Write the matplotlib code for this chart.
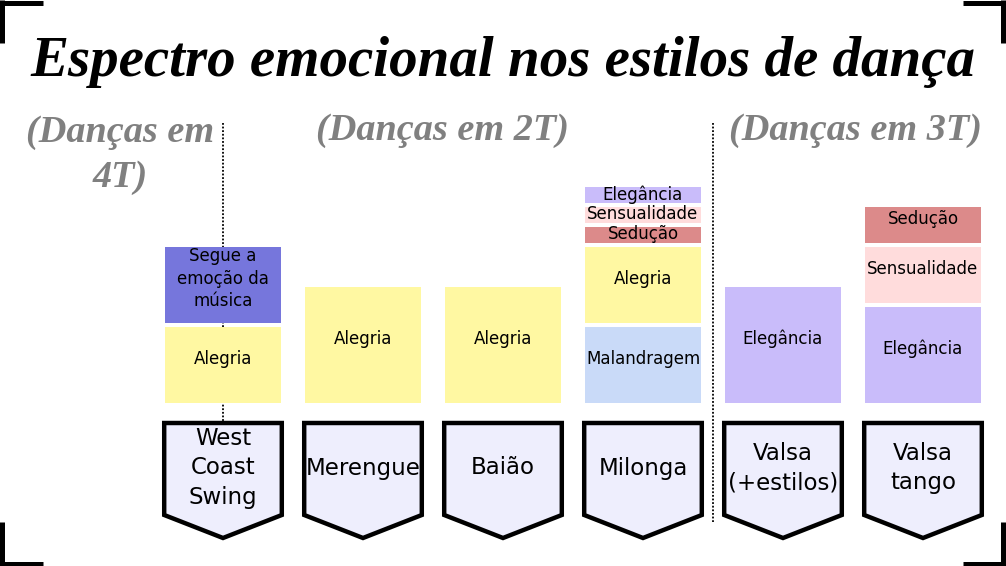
import matplotlib.pyplot as plt
from matplotlib.patches import Rectangle, Polygon

# DADOS

dancas = ["West\nCoast\nSwing", "Merengue", "Baião", "Milonga",
          "Valsa\n(+estilos)", "Valsa\ntango"]

# emoções de baixo para cima, com a "altura" de cada uma
emocoes = [
    ["Alegria", "Segue a\nemoção da\nmúsica"],
    ["Alegria"],
    ["Alegria"],
    ["Malandragem", "Alegria", "Sedução", "Sensualidade", "Elegância"],
    ["Elegância"],
    ["Elegância", "Sensualidade", "Sedução"],
]
alturas = [
    [4, 4],
    [6],
    [6],
    [4, 4, 1, 1, 1],
    [6],
    [5, 3, 2],
]

grupos = ["(Danças em\n4T)", "(Danças em 2T)", "(Danças em 3T)"]
separadores = [0, 3.5]

titulo = "Espectro emocional nos estilos de dança"

cores = {
    "Alegria": "#fff8a2",
    "Segue a\nemoção da\nmúsica": "#7676dc",
    "Malandragem": "#c9daf8",
    "Sedução": "#dc8a8a",
    "Sensualidade": "#ffdcdc",
    "Elegância": "#c9bcfa",
}


def desenhar_blocos(ax):
    for i, (rotulos, hs) in enumerate(zip(emocoes, alturas)):
        base = 0
        for rotulo, h in zip(rotulos, hs):
            ax.add_patch(Rectangle((i - 0.415, base + 0.1), 0.83, h - 0.2,
                                   facecolor=cores[rotulo], edgecolor="none",
                                   zorder=3))
            # texto um pouco acima do centro nos blocos maiores
            ajuste = 0.32 if h > 1 else 0.03
            ax.text(i, base + h / 2 + ajuste, rotulo, ha="center",
                    va="center", fontsize=12, linespacing=1.3, zorder=4)
            base += h


def desenhar_escudos(ax):
    for i, nome in enumerate(dancas):
        pts = [(i - 0.42, -0.9), (i + 0.42, -0.9), (i + 0.42, -5.5),
               (i, -6.65), (i - 0.42, -5.5)]
        ax.add_patch(Polygon(pts, closed=True, facecolor="#eeeefd",
                             edgecolor="black", linewidth=3.2, zorder=3,
                             joinstyle="miter"))
        ax.text(i, -3.15, nome, ha="center", va="center", fontsize=16.5,
                linespacing=1.35, zorder=4)


def main():
    fig = plt.figure(figsize=(10.06, 5.66), dpi=100)
    ax = fig.add_axes([0, 0, 1, 1])
    ax.set_xlim(-223 / 140, (1006 - 223) / 140)
    ax.set_ylim(-8.05, 20.25)
    ax.axis("off")

    # linhas pontilhadas separando os grupos
    ax.plot([separadores[0]] * 2, [14.1, -0.8], color="black", lw=1.3,
            ls=(0, (1, 1)), zorder=1)
    ax.plot([separadores[1]] * 2, [14.1, -5.85], color="black", lw=1.3,
            ls=(0, (1, 1)), zorder=1)

    desenhar_blocos(ax)
    desenhar_escudos(ax)

    fonte_titulo = dict(family="Liberation Serif", weight="bold", style="italic")
    ax.text(2.0, 17.15, titulo, ha="center", va="center", fontsize=41,
            **fonte_titulo)

    ax.text(-0.736, 12.5, grupos[0], ha="center", va="center", fontsize=27.5,
            color="#808080", linespacing=1.35, **fonte_titulo)
    ax.text(1.571, 13.75, grupos[1], ha="center", va="center", fontsize=27.5,
            color="#808080", **fonte_titulo)
    ax.text(4.52, 13.75, grupos[2], ha="center", va="center", fontsize=27.5,
            color="#808080", **fonte_titulo)

    # cantoneiras da moldura
    mold = fig.add_axes([0, 0, 1, 1], facecolor="none")
    mold.set_xlim(0, 1006)
    mold.set_ylim(566, 0)
    mold.axis("off")
    kw = dict(color="black", lw=3.6, solid_capstyle="butt")
    mold.plot([0, 43], [2.5, 2.5], **kw)
    mold.plot([2.5, 2.5], [0, 43], **kw)
    mold.plot([963, 1006], [2.5, 2.5], **kw)
    mold.plot([1003.5, 1003.5], [0, 43], **kw)
    mold.plot([0, 43], [563.5, 563.5], **kw)
    mold.plot([2.5, 2.5], [522, 566], **kw)
    mold.plot([963, 1006], [563.5, 563.5], **kw)
    mold.plot([1003.5, 1003.5], [522, 566], **kw)

    fig.savefig("out.png", dpi=100)


if __name__ == "__main__":
    main()
